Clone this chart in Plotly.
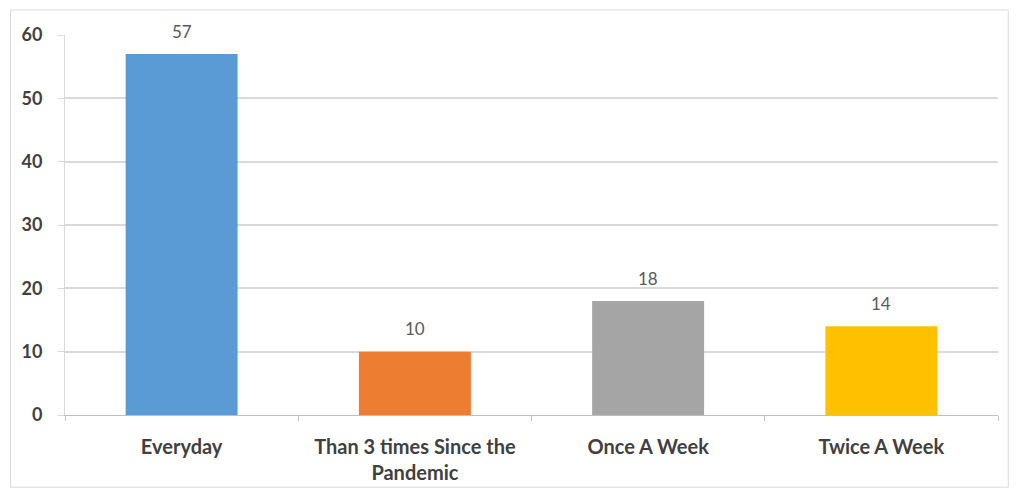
import plotly.graph_objects as go

categories = ["Everyday", "Than 3 times Since the<br>Pandemic", "Once A Week", "Twice A Week"]
values = [57, 10, 18, 14]
labels = ["57", "10", "18", "14"]
colors = ["#5B9BD5", "#ED7D31", "#A5A5A5", "#FFC000"]
y_ticks = [0, 10, 20, 30, 40, 50, 60]

fig = go.Figure()
fig.add_trace(go.Bar(
    x=categories, y=values, marker=dict(color=colors, line=dict(width=0)),
    width=0.48, showlegend=False, hoverinfo="x+y",
))

for c, v, t in zip(categories, values, labels):
    fig.add_annotation(x=c, y=v, xref="x", yref="y", text=t, showarrow=False,
                       yanchor="middle", yshift=23,
                       font=dict(family="Lato", size=17, color="#595959"))

fig.add_shape(type="rect", xref="paper", yref="paper",
              x0=-0.0584, x1=1.011, y0=-0.19, y1=1.0657,
              line=dict(color="#D9D9D9", width=1), fillcolor="rgba(0,0,0,0)", layer="below")

fig.update_layout(
    width=1017, height=492,
    margin=dict(l=56.5, r=27.3, t=27, b=84.5, autoexpand=False),
    paper_bgcolor="white", plot_bgcolor="white",
    bargap=0.52,
    xaxis=dict(
        type="category", tickson="boundaries", ticks="outside", ticklen=5,
        tickcolor="#BFBFBF", showline=True, linecolor="#BFBFBF", linewidth=1,
        showgrid=False, automargin=False,
        tickfont=dict(family="Lato", size=20, color="#404040", weight="bold"),
        ticklabelstandoff=14,
        range=[-0.5, 3.5],
    ),
    yaxis=dict(
        range=[0, 60], tickvals=y_ticks, ticks="outside", ticklen=6, tickcolor="#D9D9D9",
        showgrid=True, gridcolor="#D9D9D9", gridwidth=1.5, automargin=False,
        showline=True, linecolor="#D9D9D9", zeroline=False,
        tickfont=dict(family="Lato", size=18, color="#404040", weight="bold"),
        ticklabelstandoff=12,
    ),
)

fig.write_html("out.html")
